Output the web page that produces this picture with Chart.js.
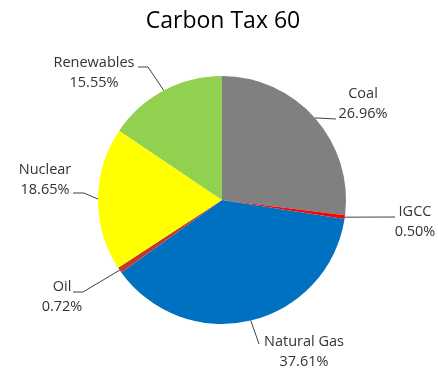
<!DOCTYPE html>
<html>
<head>
<meta charset="utf-8">
<script src="https://cdn.jsdelivr.net/npm/chart.js@4/dist/chart.umd.min.js"></script>
<style>
  html, body { margin: 0; padding: 0; background: #fff; }
  canvas { display: block; }
</style>
</head>
<body>
<canvas id="mixChart" width="438" height="369"></canvas>
<script>
// generation mix shares (%)
const categories = ["Coal", "IGCC", "Natural Gas", "Oil", "Nuclear", "Renewables"];
const shares = [26.96, 0.50, 37.61, 0.72, 18.65, 15.55];
const sliceColors = ["#808080", "#FF0000", "#0070C0", "#C0392B", "#FFFF00", "#92D050"];
const chartTitle = "Carbon Tax 60";

// callout layout: leader bends after the slice edge, then text block centre
const callouts = [
  { bends: [[336, 119]], cx: 363, cy: 94 },
  { bends: [[395, 217]], cx: 415, cy: 212 },
  { bends: [[259, 344]], cx: 304, cy: 342 },
  { bends: [[83, 292], [73, 292]], cx: 62, cy: 287 },
  { bends: [[84, 193], [73, 193]], cx: 45, cy: 170 },
  { bends: [[148, 67], [138, 67]], cx: 94, cy: 63 }
];

const FONT = "'Open Sans', 'DejaVu Sans', sans-serif";

const calloutPlugin = {
  id: "callouts",
  afterDraw(chart) {
    const ctx = chart.ctx;
    const arcs = chart.getDatasetMeta(0).data;
    ctx.save();

    // title
    ctx.fillStyle = "#000";
    ctx.font = "23px " + FONT;
    ctx.textAlign = "center";
    ctx.textBaseline = "middle";
    ctx.fillText(chartTitle, 223, 21);

    arcs.forEach((arc, i) => {
      const c = callouts[i];
      const p = arc.getProps(["x", "y", "startAngle", "endAngle", "outerRadius"], true);
      const mid = (p.startAngle + p.endAngle) / 2;
      const sx = p.x + Math.cos(mid) * p.outerRadius;
      const sy = p.y + Math.sin(mid) * p.outerRadius;

      ctx.strokeStyle = "#404040";
      ctx.lineWidth = 1;
      ctx.beginPath();
      ctx.moveTo(sx, sy);
      c.bends.forEach(([bx, by]) => ctx.lineTo(bx, by));
      ctx.stroke();

      ctx.fillStyle = "#333";
      ctx.font = "14.5px " + FONT;
      ctx.textAlign = "center";
      ctx.fillText(categories[i], c.cx, c.cy);
      ctx.fillText(shares[i].toFixed(2) + "%", c.cx, c.cy + 20);
    });

    ctx.restore();
  }
};

new Chart(document.getElementById("mixChart"), {
  type: "pie",
  data: {
    labels: categories,
    datasets: [{
      data: shares,
      backgroundColor: sliceColors,
      borderWidth: 0
    }]
  },
  options: {
    responsive: false,
    animation: false,
    layout: { padding: { top: 76, bottom: 45, left: 98, right: 92 } },
    plugins: {
      legend: { display: false },
      tooltip: { enabled: false }
    }
  },
  plugins: [calloutPlugin]
});
</script>
</body>
</html>
